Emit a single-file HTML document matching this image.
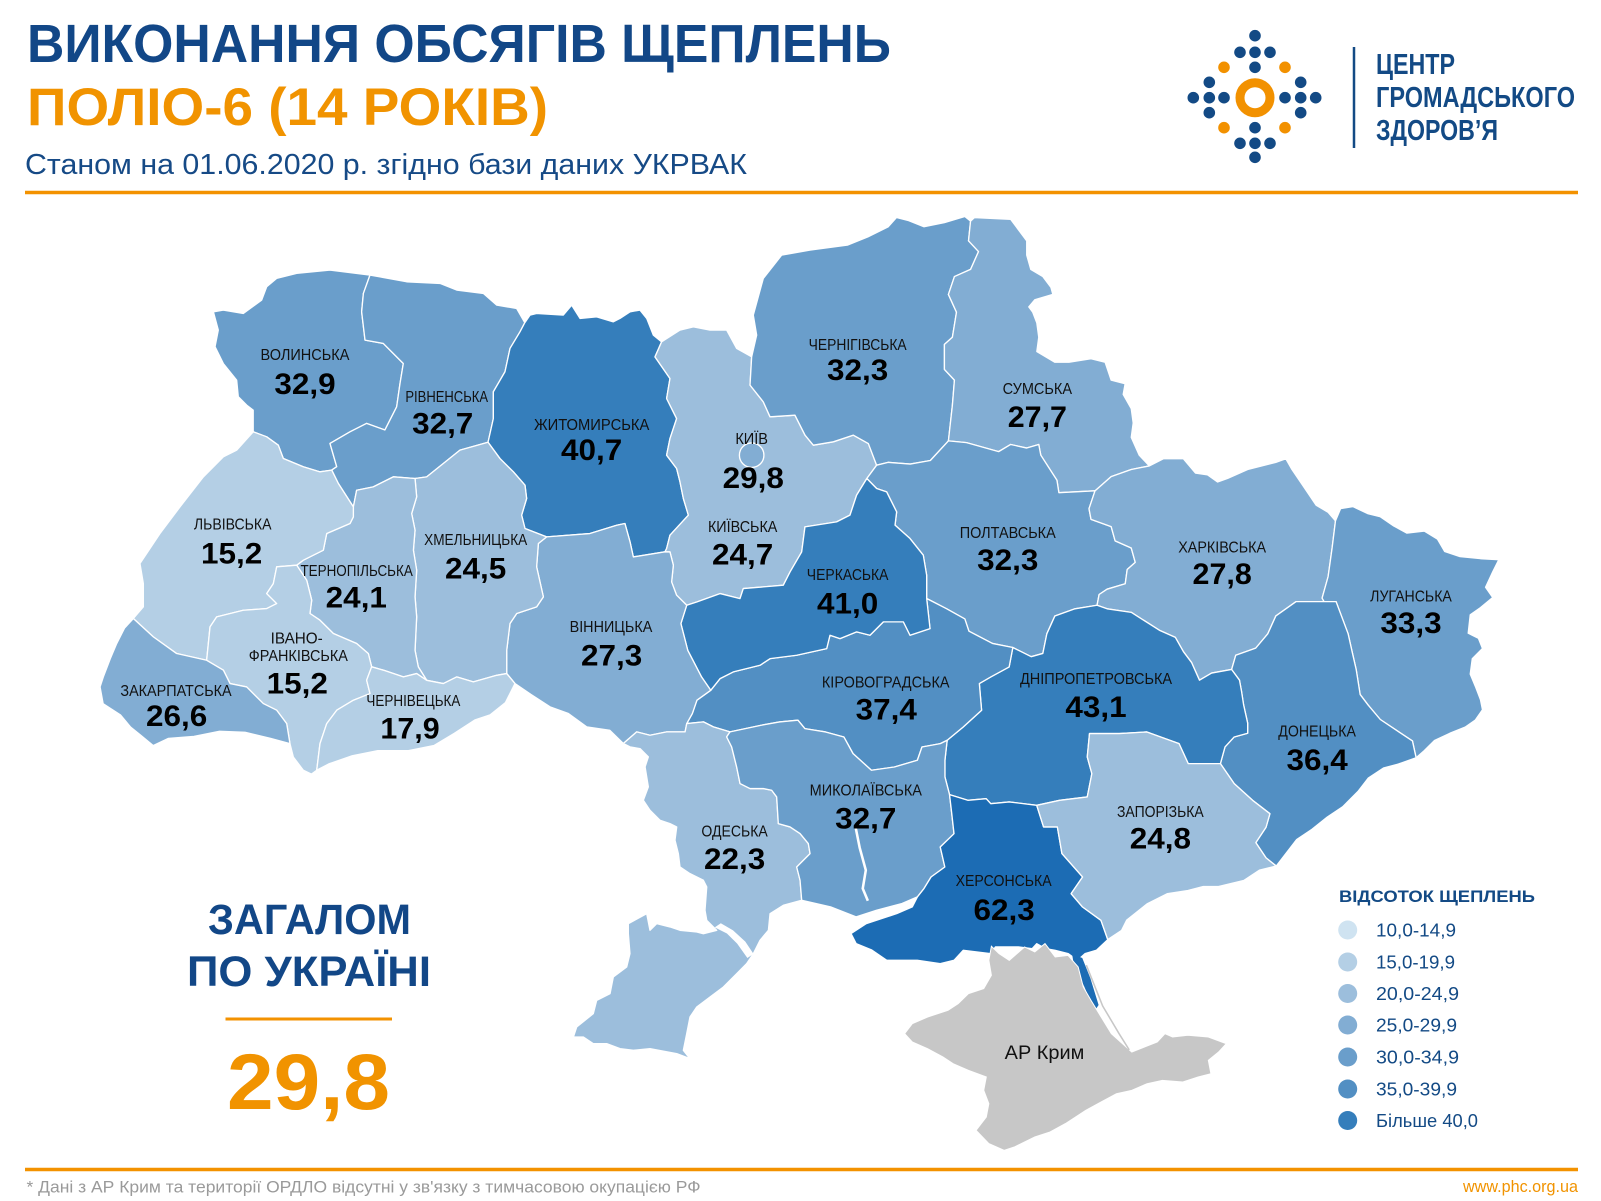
<!DOCTYPE html>
<html><head><meta charset="utf-8"><style>
html,body{margin:0;padding:0;background:#fff;}
svg{display:block;}
text{font-family:"Liberation Sans","DejaVu Sans",sans-serif;}
.n{font-size:15px;fill:#111;text-anchor:middle;}
.v{font-size:29px;font-weight:bold;fill:#000;text-anchor:middle;}
.r{stroke:#fff;stroke-width:1.3;stroke-linejoin:round;}
</style></head><body>
<svg width="1601" height="1201" viewBox="0 0 1601 1201" xmlns="http://www.w3.org/2000/svg">
<rect width="1601" height="1201" fill="#fff"/>
<!-- Header -->
<text x="27" y="62" font-size="53.5" font-weight="bold" fill="#124787" textLength="864" lengthAdjust="spacingAndGlyphs">ВИКОНАННЯ ОБСЯГІВ ЩЕПЛЕНЬ</text>
<text x="27" y="125" font-size="53" font-weight="bold" fill="#f19300" textLength="521" lengthAdjust="spacingAndGlyphs">ПОЛІО-6 (14 РОКІВ)</text>
<text x="25" y="174" font-size="29" fill="#164a86" textLength="722" lengthAdjust="spacingAndGlyphs">Станом на 01.06.2020 р. згідно бази даних УКРВАК</text>
<line x1="25" y1="192.5" x2="1578" y2="192.5" stroke="#f39200" stroke-width="3.5"/>
<!-- Logo -->
<g fill="#134a85">
<circle cx="1255" cy="35.7" r="5.8"/>
<circle cx="1240" cy="52.3" r="5.8"/><circle cx="1255" cy="52.3" r="5.8"/><circle cx="1270" cy="52.3" r="5.8"/>
<circle cx="1255" cy="67.3" r="5.8"/>
<circle cx="1209.3" cy="82.3" r="5.8"/><circle cx="1300.7" cy="82.3" r="5.8"/>
<circle cx="1193.3" cy="97.7" r="5.8"/><circle cx="1209.3" cy="97.7" r="5.8"/><circle cx="1224" cy="97.7" r="5.8"/>
<circle cx="1285" cy="97.7" r="5.8"/><circle cx="1300.7" cy="97.7" r="5.8"/><circle cx="1315.7" cy="97.7" r="5.8"/>
<circle cx="1209.3" cy="112.7" r="5.8"/><circle cx="1300.7" cy="112.7" r="5.8"/>
<circle cx="1255" cy="127.7" r="5.8"/>
<circle cx="1240" cy="143.3" r="5.8"/><circle cx="1255" cy="143.3" r="5.8"/><circle cx="1270" cy="143.3" r="5.8"/>
<circle cx="1255" cy="157.3" r="5.8"/>
</g>
<g fill="#f29100">
<circle cx="1224" cy="67.3" r="5.8"/><circle cx="1285" cy="67.3" r="5.8"/>
<circle cx="1224" cy="127.7" r="5.8"/><circle cx="1285" cy="127.7" r="5.8"/>
</g>
<circle cx="1255" cy="97.7" r="15" fill="none" stroke="#f29100" stroke-width="9"/>
<line x1="1354" y1="47" x2="1354" y2="148" stroke="#134a85" stroke-width="2.5"/>
<g font-weight="bold" font-size="29" fill="#134a85">
<text x="1376" y="74" textLength="79" lengthAdjust="spacingAndGlyphs">ЦЕНТР</text>
<text x="1376" y="107" textLength="199" lengthAdjust="spacingAndGlyphs">ГРОМАДСЬКОГО</text>
<text x="1376" y="140" textLength="122" lengthAdjust="spacingAndGlyphs">ЗДОРОВ’Я</text>
</g>

<!-- Map -->
<g transform="scale(1.021 1.0213)">
<!-- Volyn -->
<polygon class="r" fill="#6a9ecb" points="209,305.3 218.7,303.6 238.3,306.9 256.3,293.8 261.2,280.8 271,272.6 290.6,267.7 323.2,264.4 362.4,269.3 355.9,287.3 354.2,305.3 357.5,333 375.4,336.3 395,355.9 391.8,375.4 388.5,398.3 377,421 359,414.6 342.8,422.8 323.2,434.2 329.8,457 324.9,460.3 313.4,462 297,457 277.5,448.9 272.6,435.9 261.2,427.7 248,422.8 248,401.6 241.6,396.7 233.4,388.5 231.8,372.2 218.7,355.9 210.6,339.5 213.8,323.2"/>
<!-- Rivne -->
<polygon class="r" fill="#6a9ecb" points="362.4,269.3 398.3,275.9 431,277.5 447.3,284 473.4,287.3 486.5,298.7 506,302 514,316 509.3,324.9 499.5,341.2 494.6,364 483.2,383.6 483.2,409.8 478,433 450.5,440.7 434.2,453.8 417.9,466.9 406.5,468.5 385.2,466.9 365.6,476.7 349.3,480 346.1,496.3 331.4,473.4 324.9,460.3 329.8,457 323.2,434.2 342.8,422.8 359,414.6 377,421 388.5,398.3 391.8,375.4 395,355.9 375.4,336.3 357.5,333 354.2,305.3 355.9,287.3"/>
<!-- Zhytomyr -->
<polygon class="r" fill="#357ebb" points="514,316 519.1,308.5 525.6,306.9 551.7,308.5 559.9,298.8 568.1,311.8 584.4,310.2 600.7,315.1 607.2,311.8 617.1,305.3 626.8,303.6 633.4,311.8 639.9,328.1 648,334.7 641.5,349.4 656.2,370.6 652.9,390.2 662.7,409.8 656.2,429.4 652.9,445.7 662.7,458.7 666,471.8 669.3,488.1 674.2,504.4 656.2,524 652.9,537.1 651.3,540.3 620.3,545.3 617.1,530.6 612.1,512.6 604,514.3 577.8,522.4 535.4,525.7 514.2,517.5 510.9,504.4 515.8,488.1 514.2,475.1 502.8,462 489.7,449 478,433 483.2,409.8 483.2,383.6 494.6,364 499.5,341.2 509.3,324.9"/>
<!-- Kyiv oblast -->
<polygon class="r" fill="#9cbedc" points="648,334.7 666,323.2 679.1,320 695.4,323.2 711.7,323.2 721.5,341.2 736.2,349.4 734.6,377.1 747.6,393.5 754.2,408.1 778.6,406.5 788.5,426.1 796.6,435.9 816.2,432.6 835.8,426.1 850.5,434.3 858.6,455.5 849,468.5 839,484.8 832.5,504.4 819.4,511 788.4,515.9 785.2,540.4 773.8,560 767.2,573 728,576.3 724.8,586.1 705.2,581.2 682.4,589.4 672.6,592.6 662.7,582.8 657.8,569.8 659.5,553.4 656.2,540.4 651.3,540.3 652.9,537.1 656.2,524 674.2,504.4 669.3,488.1 666,471.8 662.7,458.7 652.9,445.7 656.2,429.4 662.7,409.8 652.9,390.2 656.2,370.6 641.5,349.4"/>
<!-- Chernihiv -->
<polygon class="r" fill="#6a9ecb" points="736.2,349.4 741.1,328.1 737.8,308.5 747.6,272.6 765.6,249.8 793.3,244.9 830,240 850,232 870,222 878,213 890,216 905,222 925,218 945,212 950.6,216.5 948.6,235.8 958.4,246.3 950.6,263.8 934.8,270.8 928.9,288.3 936.8,305.7 932.8,330.2 925,337.2 925,361.7 934.8,372.2 932.8,396.7 928.9,431.7 911.2,450.9 891.5,454.4 869.9,452.7 858.6,455.5 850.5,434.3 835.8,426.1 816.2,432.6 796.6,435.9 788.5,426.1 778.6,406.5 754.2,408.1 747.6,393.5 734.6,377.1"/>
<!-- Sumy -->
<polygon class="r" fill="#82add3" points="950.6,216.5 954.5,213 989.9,214.8 1005.6,235.8 1005.6,249.8 1009.6,263.8 1021.4,270.8 1029.3,281.3 1031.2,288.3 1013.5,293.5 1007.6,300.5 1011.5,305.7 1015.5,316.2 1017.4,330.2 1015.5,344.2 1033.2,354.7 1047,354.7 1068.6,351.2 1082.4,354.7 1088.3,372.2 1102,375.7 1100.1,386.2 1108,400.2 1109.9,414.2 1108,428.2 1115.8,445.7 1125.7,456.2 1108,459.7 1088.3,466.7 1072.5,480.6 1037.1,482.4 1035.2,470.2 1019.4,445.7 1017.4,435.2 1005.6,438.7 989.9,435.2 978.1,442.2 946.6,433.4 928.9,431.7 932.8,396.7 934.8,372.2 925,361.7 925,337.2 932.8,330.2 936.8,305.7 928.9,288.3 934.8,270.8 950.6,263.8 958.4,246.3 948.6,235.8"/>
<!-- Poltava -->
<polygon class="r" fill="#6a9ecb" points="858.6,455.5 869.9,452.7 891.5,454.4 911.2,450.9 928.9,431.7 946.6,433.4 978.1,442.2 989.9,435.2 1005.6,438.7 1017.4,435.2 1019.4,445.7 1035.2,470.2 1037.1,482.4 1072.5,480.6 1066.6,498.1 1068.6,508.6 1088.3,515.6 1092.2,529.6 1108,536.6 1111.9,550.6 1104,557.6 1102.1,571.6 1084.3,576.9 1076.5,582.1 1074.5,592.6 1052.9,596.1 1033.2,603.1 1025.3,620.6 1021.4,639.8 1010,643 1000,638 992,634 972,630 949,618 945,606 927,596 907.6,586 907.6,563.2 904.3,543.6 891.3,527.3 876.6,514.2 878.2,501.2 868.4,481.6 858.6,478.3 849,468.5"/>
<!-- Kharkiv -->
<polygon class="r" fill="#82add3" points="1125.7,456.2 1139.4,449.2 1159.1,449.2 1170.9,463.2 1182.7,464.9 1192.5,471.9 1202.4,468.4 1222,459.7 1249.6,452.7 1259.4,449.2 1265.4,459.7 1277.2,477.1 1289,494.6 1300.8,501.6 1308,510 1304.7,536.6 1300.8,564.6 1294.9,585.6 1296.9,589.1 1269.3,589.1 1249.6,603.1 1241.7,620.6 1229.9,634.6 1210.3,641.6 1206.3,655.5 1186.7,659 1174.8,666 1167,648.6 1159.1,638.1 1151.2,624.1 1135.5,617.1 1108,599.6 1084.3,596.1 1074.5,592.6 1076.5,582.1 1084.3,576.9 1102.1,571.6 1104,557.6 1111.9,550.6 1108,536.6 1092.2,529.6 1088.3,515.6 1068.6,508.6 1066.6,498.1 1072.5,480.6 1088.3,466.7 1108,459.7"/>
<!-- Luhansk -->
<polygon class="r" fill="#6a9ecb" points="1308,510 1313,498 1325,496 1340,503 1352,506 1365,515 1378,522 1395,520 1408,528 1415,540 1430,545 1450,547 1468,548 1462,560 1455,575 1462,585 1450,595 1440,602 1438,620 1448,625 1452,635 1442,645 1440,660 1445,672 1450,685 1452,695 1445,705 1435,712 1420,718 1405,725 1395,735 1387,742 1383.4,725.5 1367.6,715 1351.9,704.5 1340.1,690.5 1332.2,680.1 1328.3,655.6 1324.3,638.1 1320.4,620.6 1308.6,589.1 1296.9,589.1 1294.9,585.6 1300.8,564.6 1304.7,536.6"/>
<!-- Donetsk -->
<polygon class="r" fill="#528fc3" points="1296.9,589.1 1308.6,589.1 1320.4,620.6 1324.3,638.1 1328.3,655.6 1332.2,680.1 1340.1,690.5 1351.9,704.5 1367.6,715 1383.4,725.5 1387,742 1370,748 1355,752 1340,762 1330,775 1315,790 1300,800 1285,812 1270,822 1260,835 1250,848 1240,840 1230,825 1240,810 1243.8,796.7 1226.8,783.6 1208.8,767.3 1195.3,747.7 1199.8,731.4 1208.8,721.6 1222,718 1222,708 1218,690 1216,677 1214,666 1206.3,655.5 1210.3,641.6 1229.9,634.6 1241.7,620.6 1249.6,603.1 1269.3,589.1"/>
<!-- Dnipro -->
<polygon class="r" fill="#357ebb" points="1074.5,592.6 1084.3,596.1 1108,599.6 1135.5,617.1 1151.2,624.1 1159.1,638.1 1167,648.6 1174.8,666 1186.7,659 1206.3,655.5 1214,666 1216,677 1218,690 1222,708 1222,718 1208.8,721.6 1199.8,731.4 1195.3,747.7 1163.8,747.7 1154.8,728.1 1136.8,721.6 1123.3,716.7 1096.3,718.3 1067.1,718.3 1064.9,741.2 1069.4,757.5 1064.9,780.3 1037.9,783.6 1015.4,788.5 988.4,785.2 970.4,786.9 965.9,782 947.9,783.6 930,778 925.5,760.7 925.5,744.4 927.7,724.8 943.4,711.8 961.4,695.4 959.2,669.3 970.4,662.8 988.4,653 992,634 1000,638 1010,643 1021.4,639.8 1025.3,620.6 1033.2,603.1 1052.9,596.1"/>
<!-- Kirovohrad -->
<polygon class="r" fill="#528fc3" points="672.6,708.5 678.1,698.7 682.6,685.6 696.1,675.9 705.2,664.5 718.2,657.9 744.4,651.4 754.2,644.9 780.3,641.6 809.7,635.1 812.9,622 822.7,625.3 839,618.7 852.1,622 865.2,608.9 884.8,608.9 891.3,622 910.9,615.5 907.6,586 927,596 945,606 949,618 972,630 992,634 988.4,653 970.4,662.8 959.2,669.3 961.4,695.4 943.4,711.8 927.7,724.8 921,728.1 903,731.4 898.5,744.4 876,751 853.5,754.2 835.5,737.9 826.5,721.6 808.5,716.7 788.3,713.4 781.5,705.2 763.5,706.9 745.6,710.1 715,716.6 698.7,711.7 689,706.8"/>
<!-- Cherkasy -->
<polygon class="r" fill="#357ebb" points="849,468.5 858.6,478.3 868.4,481.6 878.2,501.2 876.6,514.2 891.3,527.3 904.3,543.6 907.6,563.2 907.6,586 910.9,615.5 891.3,622 884.8,608.9 865.2,608.9 852.1,622 839,618.7 822.7,625.3 812.9,622 809.7,635.1 780.3,641.6 754.2,644.9 744.4,651.4 718.2,657.9 705.2,664.5 696.1,675.9 687.1,662.8 673.6,636.7 666.9,610.6 672.6,592.6 682.4,589.4 705.2,581.2 724.8,586.1 728,576.3 767.2,573 773.8,560 785.2,540.4 788.4,515.9 819.4,511 832.5,504.4 839,484.8"/>
<!-- Vinnytsia -->
<polygon class="r" fill="#82add3" points="535.4,525.7 577.8,522.4 604,514.3 612.1,512.6 617.1,530.6 620.3,545.3 651.3,540.3 656.2,540.4 659.5,553.4 657.8,569.8 662.7,582.8 672.6,592.6 666.9,610.6 673.6,636.7 687.1,662.8 696.1,675.9 682.6,685.6 678.1,698.7 672.6,708.5 671,716.6 653,716.6 636.6,719.9 623.6,716.6 610.5,728 597.2,715 574.7,711.7 556.7,698.6 538.7,692.1 520,680 504.4,669.3 496.3,659.5 496.3,636.7 499.5,610.5 506.1,600.7 525.6,594.2 532.2,584.4 525.6,555 527.3,532.2"/>
<!-- Khmelnytskyi -->
<polygon class="r" fill="#9cbedc" points="406.5,468.5 417.9,466.9 434.2,453.8 450.5,440.7 478,433 489.7,449 502.8,462 514.2,475.1 515.8,488.1 510.9,504.4 514.2,517.5 535.4,525.7 527.3,532.2 525.6,555 532.2,584.4 525.6,594.2 506.1,600.7 499.5,610.5 496.3,636.7 496.3,659.5 486.5,661.2 463.6,667.7 447.3,662.8 434.2,669.3 417.9,666.1 409.7,653 406.5,636.7 408.1,604 406.5,584.4 408.1,558.3 404.9,538.7 406.5,519.1 403.2,502.8 408.1,486.5"/>
<!-- Ternopil -->
<polygon class="r" fill="#9cbedc" points="346.1,496.3 349.3,480 365.6,476.7 385.2,466.9 406.5,468.5 408.1,486.5 403.2,502.8 406.5,519.1 404.9,538.7 408.1,558.3 406.5,584.4 408.1,604 406.5,636.7 409.7,653 417.9,666.1 408.1,659.5 395.1,662.8 375.5,656.2 364,652.9 360.8,640 349.3,630.1 326.5,620.3 313.4,607.3 303.6,600.7 305.3,587.7 300.4,568.1 290.6,553.4 297.1,548.5 316.7,538.7 320,522.4 342.8,512.6 346.1,506.1"/>
<!-- Lviv -->
<polygon class="r" fill="#b4cfe5" points="248,422.8 261.2,427.7 272.6,435.9 277.5,448.9 297,457 313.4,462 324.9,460.3 331.4,473.4 346.1,496.3 346.1,506.1 342.8,512.6 320,522.4 316.7,538.7 297.1,548.5 290.6,553.4 271,555 267.7,571.4 261.2,581.2 271,591 261.2,595.9 238.3,597.5 212.2,604 205.7,613.8 202.4,646.5 173,639.9 150.2,623.6 130.6,605.6 140.4,594.2 140.4,571.4 137.1,551.8 156.7,522.4 176.3,496.3 199.2,466.9 218.8,447.3 231.8,440.8"/>
<!-- Ivano-Frankivsk -->
<polygon class="r" fill="#b4cfe5" points="290.6,553.4 300.4,568.1 305.3,587.7 303.6,600.7 313.4,607.3 326.5,620.3 349.3,630.1 360.8,640 364,652.9 359.1,666 362.4,679.1 346.1,685.6 329.8,695.4 320,708.5 313.4,728.1 310.2,754.2 305,758 297.1,754.2 287.3,741.2 284,728.1 280.8,708.5 271,695.4 257.9,688.9 241.6,672.6 225.3,669.3 218.8,656.2 202.4,646.5 205.7,613.8 212.2,604 238.3,597.5 261.2,595.9 271,591 261.2,581.2 267.7,571.4 271,555"/>
<!-- Zakarpattia -->
<polygon class="r" fill="#82add3" points="130.6,605.6 150.2,623.6 173,639.9 202.4,646.5 218.8,656.2 225.3,669.3 241.6,672.6 257.9,688.9 271,695.4 280.8,708.5 284,728.1 265,723 240,717 215,716 190,721 165,723 150,730 138,720 128,712 118,700 101,689 98,672.6 101.2,662.8 108,645 114.3,630.1 122,615"/>
<!-- Chernivtsi -->
<polygon class="r" fill="#b4cfe5" points="364,652.9 375.5,656.2 395.1,662.8 408.1,659.5 417.9,666.1 434.2,669.3 447.3,662.8 463.6,667.7 486.5,661.2 496.3,659.5 504.4,669.3 495,688 480,700 465,705 445,718 425,730 400,735 370,735 345,740 322,748 310.2,754.2 313.4,728.1 320,708.5 329.8,695.4 346.1,685.6 362.4,679.1 359.1,666"/>
<!-- Odesa -->
<polygon class="r" fill="#9cbedc" points="610.5,728 623.6,716.6 636.6,719.9 653,716.6 671,716.6 672.6,708.5 689,706.8 698.7,711.7 715,716.6 711.7,721.5 716.6,731.3 721.5,751 724.8,767.2 734.6,772.1 747.6,772.1 755.8,773.8 760.7,780.3 762.3,806.4 773.8,809.7 783.6,816.2 791.7,826 793.4,835.8 780.3,848.9 783.6,861.9 785.2,881.5 767.2,886.4 754.2,894.6 752.6,910.9 744.4,920.7 737.9,933.7 731.3,943.5 721.5,953.4 708.5,966.4 695.4,976.2 682.4,986 675.8,995.8 672.6,1012.1 669.3,1028.4 675.8,1036.6 662.8,1031.7 636.6,1026.8 620.3,1028.4 607.3,1026.8 594.2,1021.9 581.1,1021.9 571.4,1015.4 561.6,1015.4 564.8,1005.6 581.1,992.5 584.4,979.5 597.5,972.9 600.7,956.6 613.8,946.8 617,933.7 615.4,914.2 615.4,904.4 633.4,894.6 636.6,910.9 643.2,904.4 656.2,907.6 666,910.9 682.4,912.5 688.9,914.2 702,910.9 692.2,901.1 690.5,891.3 692.2,868.4 688.9,861.9 675.8,855.4 666,848.9 664.4,835.8 661.1,822.7 662.8,809.7 656.2,806.4 646.4,803.1 636.6,793.3 630.1,783.6 635,770.5 631.8,750.9 635,741.1 626.9,733 617,731.3"/>
<polygon fill="#fff" points="700,908 712,914 722,924 732,938 738,934 730,922 718,911 706,904"/>
<!-- Mykolaiv -->
<polygon class="r" fill="#6a9ecb" points="715,716.6 745.6,710.1 763.5,706.9 781.5,705.2 788.3,713.4 808.5,716.7 826.5,721.6 835.5,737.9 853.5,754.2 876,751 898.5,744.4 903,731.4 921,728.1 927.7,724.8 925.5,744.4 925.5,760.7 930,778 932,795 934.4,816.3 920.9,829.3 925.4,848.9 911.9,858.7 905,870 898.5,878.2 883.5,884.7 858.5,891.3 838.5,897.8 813.5,888 785.2,881.5 783.6,861.9 780.3,848.9 793.4,835.8 791.7,826 783.6,816.2 773.8,809.7 762.3,806.4 760.7,780.3 755.8,773.8 747.6,772.1 734.6,772.1 724.8,767.2 721.5,751 716.6,731.3 711.7,721.5"/>
<polyline points="838,810 842,830 848,852 845,870 850,882" fill="none" stroke="#fff" stroke-width="2.5"/>
<!-- Kherson -->
<polygon class="r" fill="#1c6cb4" points="930,778 947.9,783.6 965.9,782 970.4,786.9 988.4,785.2 1015.4,788.5 1022.1,809.7 1035.6,809.7 1040.1,835.8 1060.3,858.7 1049.1,875 1060.3,888.1 1078.3,901.1 1085,920 1073.8,930.5 1062.6,933.8 1055.3,940.3 1046.3,933.8 1033.2,930.5 1024.2,928.9 1015.4,924 1010.9,928.9 997.4,927.2 974.9,927.2 970.4,933.8 943.4,930.5 934.4,940.3 920.9,943.6 898.5,940.3 880.5,940.3 868.5,940.3 853.5,930 838.5,923.9 833.5,914.1 848.5,904.3 878.5,894.5 893.5,888 898.5,878.2 905,870 911.9,858.7 925.4,848.9 920.9,829.3 934.4,816.3 932,795"/>
<polygon fill="#1c6cb4" points="1050,934 1060,938 1068,958 1076,984 1072,990 1062,966 1052,946"/>
<!-- Zaporizhzhia -->
<polygon class="r" fill="#9cbedc" points="1015.4,788.5 1037.9,783.6 1064.9,780.3 1069.4,757.5 1064.9,741.2 1067.1,718.3 1096.3,718.3 1123.3,716.7 1136.8,721.6 1154.8,728.1 1163.8,747.7 1195.3,747.7 1208.8,767.3 1226.8,783.6 1243.8,796.7 1240,810 1230,825 1240,840 1250,848 1233.5,852 1218.5,862 1193.5,868 1178.5,868 1163.5,872 1143.5,875 1123.5,885 1103.5,901 1098.5,911 1085,920 1078.3,901.1 1060.3,888.1 1049.1,875 1060.3,858.7 1040.1,835.8 1035.6,809.7 1022.1,809.7"/>
<!-- Crimea -->
<polygon fill="#c7c7c7" stroke="#fff" stroke-width="1" points="971,926.5 978.5,933.7 988.5,940.3 1003.5,927.2 1013.5,932.1 1023.5,923.9 1033.5,937 1046,935.4 1056,946.8 1061,966.4 1068.5,979.4 1078.5,995.8 1088.5,1012.1 1108.5,1030.1 1133.5,1020.2 1141,1012.1 1148.5,1015.4 1163.5,1013.7 1183.5,1015.4 1201,1021.9 1193.5,1030.1 1183.5,1038.2 1186,1051.3 1173.5,1054.5 1158.5,1059.4 1138.5,1057.8 1123.5,1061.1 1108.5,1067.6 1093.5,1070.9 1078.5,1079 1063.5,1087.2 1043.5,1100.2 1028.5,1108.4 1013.5,1113.3 993.5,1123.1 983.5,1126.4 968.5,1119.8 956,1106.8 966,1093.7 968.5,1080.6 963.5,1067.6 966,1054.5 948.5,1048 933.5,1041.5 923.5,1034.9 908.5,1026.8 893.5,1020.2 886,1012.1 893.5,1002.3 908.5,995.8 928.5,989.2 938.5,982.7 948.5,972.9 963.5,968 971,955 968.5,940.3"/>
<polyline points="1064,945 1080,985 1096,1012 1106,1028" fill="none" stroke="#c7c7c7" stroke-width="1.5"/>
<!-- Kyiv city -->
<circle cx="736.2" cy="445.7" r="12" fill="#82add3" stroke="#fff" stroke-width="1.3"/>

<!-- Labels -->
<text class="n" x="298.7" y="352.6" textLength="87" lengthAdjust="spacingAndGlyphs">ВОЛИНСЬКА</text>
<text class="v" x="298.7" y="385.9" textLength="60" lengthAdjust="spacingAndGlyphs">32,9</text>
<text class="n" x="437.5" y="393.4" textLength="81" lengthAdjust="spacingAndGlyphs">РІВНЕНСЬКА</text>
<text class="v" x="433.6" y="424.4" textLength="60" lengthAdjust="spacingAndGlyphs">32,7</text>
<text class="n" x="579.5" y="421.2" textLength="113" lengthAdjust="spacingAndGlyphs">ЖИТОМИРСЬКА</text>
<text class="v" x="579.5" y="450.6" textLength="60" lengthAdjust="spacingAndGlyphs">40,7</text>
<text class="n" x="736.2" y="434.9" textLength="32" lengthAdjust="spacingAndGlyphs">КИЇВ</text>
<text class="v" x="737.8" y="477.7" textLength="60" lengthAdjust="spacingAndGlyphs">29,8</text>
<text class="n" x="840" y="342.8" textLength="96" lengthAdjust="spacingAndGlyphs">ЧЕРНІГІВСЬКА</text>
<text class="v" x="840" y="372.2" textLength="60" lengthAdjust="spacingAndGlyphs">32,3</text>
<text class="n" x="1016" y="386" textLength="68" lengthAdjust="spacingAndGlyphs">СУМСЬКА</text>
<text class="v" x="1016" y="418" textLength="58" lengthAdjust="spacingAndGlyphs">27,7</text>
<text class="n" x="227.9" y="518.5" textLength="76" lengthAdjust="spacingAndGlyphs">ЛЬВІВСЬКА</text>
<text class="v" x="226.9" y="551.8" textLength="60" lengthAdjust="spacingAndGlyphs">15,2</text>
<text class="n" x="349.3" y="564.2" textLength="110" lengthAdjust="spacingAndGlyphs">ТЕРНОПІЛЬСЬКА</text>
<text class="v" x="349" y="594.9" textLength="60" lengthAdjust="spacingAndGlyphs">24,1</text>
<text class="n" x="465.9" y="533.8" textLength="101" lengthAdjust="spacingAndGlyphs">ХМЕЛЬНИЦЬКА</text>
<text class="v" x="465.9" y="566.5" textLength="60" lengthAdjust="spacingAndGlyphs">24,5</text>
<text class="n" x="727.4" y="520.8" textLength="68" lengthAdjust="spacingAndGlyphs">КИЇВСЬКА</text>
<text class="v" x="727.4" y="552.8" textLength="60" lengthAdjust="spacingAndGlyphs">24,7</text>
<text class="n" x="830.2" y="568.1" textLength="80" lengthAdjust="spacingAndGlyphs">ЧЕРКАСЬКА</text>
<text class="v" x="830.2" y="600.8" textLength="60" lengthAdjust="spacingAndGlyphs">41,0</text>
<text class="n" x="987" y="527" textLength="94" lengthAdjust="spacingAndGlyphs">ПОЛТАВСЬКА</text>
<text class="v" x="987" y="558" textLength="60" lengthAdjust="spacingAndGlyphs">32,3</text>
<text class="n" x="1197" y="541" textLength="86" lengthAdjust="spacingAndGlyphs">ХАРКІВСЬКА</text>
<text class="v" x="1197" y="572" textLength="58" lengthAdjust="spacingAndGlyphs">27,8</text>
<text class="n" x="1382" y="589" textLength="80" lengthAdjust="spacingAndGlyphs">ЛУГАНСЬКА</text>
<text class="v" x="1382" y="620" textLength="60" lengthAdjust="spacingAndGlyphs">33,3</text>
<text class="n" x="290.6" y="630.1" textLength="51" lengthAdjust="spacingAndGlyphs">ІВАНО-</text>
<text class="n" x="292.2" y="647.1" textLength="97" lengthAdjust="spacingAndGlyphs">ФРАНКІВСЬКА</text>
<text class="v" x="291.2" y="679.1" textLength="60" lengthAdjust="spacingAndGlyphs">15,2</text>
<text class="n" x="172.4" y="681.7" textLength="109" lengthAdjust="spacingAndGlyphs">ЗАКАРПАТСЬКА</text>
<text class="v" x="173" y="711.1" textLength="60" lengthAdjust="spacingAndGlyphs">26,6</text>
<text class="n" x="404.9" y="691.5" textLength="92" lengthAdjust="spacingAndGlyphs">ЧЕРНІВЕЦЬКА</text>
<text class="v" x="401.6" y="723.2" textLength="58" lengthAdjust="spacingAndGlyphs">17,9</text>
<text class="n" x="598.4" y="618.7" textLength="81" lengthAdjust="spacingAndGlyphs">ВІННИЦЬКА</text>
<text class="v" x="599" y="651.4" textLength="60" lengthAdjust="spacingAndGlyphs">27,3</text>
<text class="n" x="867.5" y="673.2" textLength="125" lengthAdjust="spacingAndGlyphs">КІРОВОГРАДСЬКА</text>
<text class="v" x="868" y="704.5" textLength="60" lengthAdjust="spacingAndGlyphs">37,4</text>
<text class="n" x="1073.5" y="669.5" textLength="149" lengthAdjust="spacingAndGlyphs">ДНІПРОПЕТРОВСЬКА</text>
<text class="v" x="1073.5" y="702" textLength="60" lengthAdjust="spacingAndGlyphs">43,1</text>
<text class="n" x="1290" y="721" textLength="76" lengthAdjust="spacingAndGlyphs">ДОНЕЦЬКА</text>
<text class="v" x="1290" y="754" textLength="60" lengthAdjust="spacingAndGlyphs">36,4</text>
<text class="n" x="848" y="779" textLength="110" lengthAdjust="spacingAndGlyphs">МИКОЛАЇВСЬКА</text>
<text class="v" x="848" y="811" textLength="60" lengthAdjust="spacingAndGlyphs">32,7</text>
<text class="n" x="719.5" y="819" textLength="65" lengthAdjust="spacingAndGlyphs">ОДЕСЬКА</text>
<text class="v" x="719.5" y="851" textLength="60" lengthAdjust="spacingAndGlyphs">22,3</text>
<text class="n" x="1136.5" y="800" textLength="85" lengthAdjust="spacingAndGlyphs">ЗАПОРІЗЬКА</text>
<text class="v" x="1136.5" y="831" textLength="60" lengthAdjust="spacingAndGlyphs">24,8</text>
<text class="n" x="983" y="867.5" textLength="94" lengthAdjust="spacingAndGlyphs">ХЕРСОНСЬКА</text>
<text class="v" x="983.5" y="901" textLength="60" lengthAdjust="spacingAndGlyphs">62,3</text>
<text x="1023" y="1037" font-size="19" fill="#111" text-anchor="middle" textLength="78" lengthAdjust="spacingAndGlyphs">АР Крим</text>
</g>

<!-- Total -->
<text x="208" y="934" font-size="43" font-weight="bold" fill="#124787" textLength="203" lengthAdjust="spacingAndGlyphs">ЗАГАЛОМ</text>
<text x="187" y="986" font-size="43" font-weight="bold" fill="#124787" textLength="244" lengthAdjust="spacingAndGlyphs">ПО УКРАЇНІ</text>
<line x1="225.5" y1="1019" x2="392" y2="1019" stroke="#f39200" stroke-width="3"/>
<text x="227" y="1109" font-size="79" font-weight="bold" fill="#f19300" textLength="163" lengthAdjust="spacingAndGlyphs">29,8</text>

<!-- Legend -->
<text x="1339" y="902" font-size="17" font-weight="bold" fill="#134a85" textLength="196" lengthAdjust="spacingAndGlyphs">ВІДСОТОК ЩЕПЛЕНЬ</text>
<g font-size="18.5" fill="#134a85">
<circle cx="1347.7" cy="930" r="9.5" fill="#cfe3f1"/>
<text x="1376" y="936.5" textLength="80" lengthAdjust="spacingAndGlyphs">10,0-14,9</text>
<circle cx="1347.7" cy="962" r="9.5" fill="#b4cfe5"/>
<text x="1376" y="968.5" textLength="79" lengthAdjust="spacingAndGlyphs">15,0-19,9</text>
<circle cx="1347.7" cy="993.5" r="9.5" fill="#9cbedc"/>
<text x="1376" y="1000" textLength="83" lengthAdjust="spacingAndGlyphs">20,0-24,9</text>
<circle cx="1347.7" cy="1025" r="9.5" fill="#82add3"/>
<text x="1376" y="1031.5" textLength="81" lengthAdjust="spacingAndGlyphs">25,0-29,9</text>
<circle cx="1347.7" cy="1057" r="9.5" fill="#6a9ecb"/>
<text x="1376" y="1063.5" textLength="83" lengthAdjust="spacingAndGlyphs">30,0-34,9</text>
<circle cx="1347.7" cy="1089" r="9.5" fill="#528fc3"/>
<text x="1376" y="1095.5" textLength="81" lengthAdjust="spacingAndGlyphs">35,0-39,9</text>
<circle cx="1347.7" cy="1120.5" r="9.5" fill="#357ebb"/>
<text x="1376" y="1127" textLength="102" lengthAdjust="spacingAndGlyphs">Більше 40,0</text>
</g>

<!-- Footer -->
<line x1="25" y1="1169.5" x2="1578" y2="1169.5" stroke="#f39200" stroke-width="3.5"/>
<text x="26.5" y="1192.5" font-size="17" fill="#9a9a9a" textLength="674" lengthAdjust="spacingAndGlyphs">* Дані з АР Крим та території ОРДЛО відсутні у зв'язку з тимчасовою окупацією РФ</text>
<text x="1463" y="1192" font-size="17" fill="#f19300" textLength="115" lengthAdjust="spacingAndGlyphs">www.phc.org.ua</text>
</svg>
</body></html>
